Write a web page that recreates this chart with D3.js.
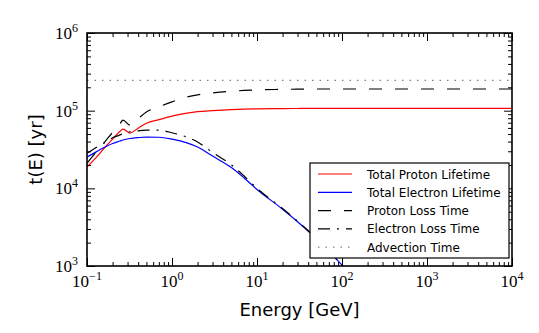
<!DOCTYPE html>
<html>
<head>
<meta charset="utf-8">
<script src="https://cdn.jsdelivr.net/npm/d3@7"></script>
<style>
  body { margin: 0; background: #fff; }
  text { fill: #000; }
</style>
</head>
<body>
<script>
let width = 539;
let height = 333;

// energies in GeV
let energy = [0.1, 0.13, 0.163, 0.2, 0.245, 0.265, 0.32, 0.4, 0.5, 0.7, 1, 1.5, 2, 3, 5, 7, 10, 20, 30, 50, 100, 200, 500, 1000, 3000, 10000];

// times in yr (null = not drawn)
let protonTotal = [1.88e4, 2.54e4, 3.38e4, 4.31e4, 5.43e4, 5.8e4, 5.15e4, 5.95e4, 6.9e4, 7.67e4, 8.5e4, 9.3e4, 9.7e4, 1.0e5, 1.03e5, 1.045e5, 1.055e5, 1.065e5, 1.067e5, 1.07e5, 1.07e5, 1.07e5, 1.07e5, 1.07e5, 1.07e5, 1.07e5];
let electronTotal = [2.53e4, 2.97e4, 3.4e4, 3.78e4, 4.07e4, 4.19e4, 4.38e4, 4.5e4, 4.57e4, 4.55e4, 4.3e4, 3.85e4, 3.4e4, 2.6e4, 1.85e4, 1.37e4, 9.67e3, 5.38e3, 3.72e3, 2.25e3, 1.03e3, 4.8e2, null, null, null, null];
let protonLoss = [2.1e4, 2.99e4, 4.0e4, 5.25e4, 6.8e4, 7.57e4, 6.52e4, 7.9e4, 9.6e4, 1.12e5, 1.3e5, 1.5e5, 1.6e5, 1.69e5, 1.78e5, 1.82e5, 1.85e5, 1.88e5, 1.89e5, 1.9e5, 1.9e5, 1.9e5, 1.9e5, 1.9e5, 1.9e5, 1.9e5];
let electronLoss = [2.82e4, 3.38e4, 3.9e4, 4.47e4, 4.88e4, 5.05e4, 5.35e4, 5.5e4, 5.6e4, 5.6e4, 5.2e4, 4.55e4, 3.95e4, 2.9e4, 2.0e4, 1.45e4, 1.0e4, 5.5e3, 3.78e3, 2.27e3, 1.03e3, 4.8e2, null, null, null, null];
let advection = [2.45e5, 2.45e5, 2.45e5, 2.45e5, 2.45e5, 2.45e5, 2.45e5, 2.45e5, 2.45e5, 2.45e5, 2.45e5, 2.45e5, 2.45e5, 2.45e5, 2.45e5, 2.45e5, 2.45e5, 2.45e5, 2.45e5, 2.45e5, 2.45e5, 2.45e5, 2.45e5, 2.45e5, 2.45e5, 2.45e5];

let seriesNames = ['Total Proton Lifetime', 'Total Electron Lifetime', 'Proton Loss Time', 'Electron Loss Time', 'Advection Time'];
let seriesData = [protonTotal, electronTotal, protonLoss, electronLoss, advection];
let seriesColor = ['#ff0000', '#0000ff', '#000000', '#000000', '#808080'];
let seriesDash = [null, null, '13,13', '12,7,2,7', '1.5,6'];

let xTickExp = [-1, 0, 1, 2, 3, 4];
let yTickExp = [3, 4, 5, 6];

let mLeft = 87, mRight = 512, mTop = 33, mBottom = 266;

let x = d3.scaleLog().domain([0.1, 1e4]).range([mLeft, mRight]);
let y = d3.scaleLog().domain([1e3, 1e6]).range([mBottom, mTop]);

let svg = d3.select('body').append('svg')
            .attr('width', width)
            .attr('height', height)
            .style('font-family', 'DejaVu Sans, sans-serif');

svg.append('defs').append('clipPath').attr('id', 'clip')
    .append('rect')
    .attr('x', mLeft).attr('y', mTop)
    .attr('width', mRight - mLeft).attr('height', mBottom - mTop);

let plot = svg.append('g').attr('clip-path', 'url(#clip)');

seriesData.forEach(function(vals, k) {
    let line = d3.line()
        .defined(function(d, i) { return vals[i] != null; })
        .x(function(d, i) { return x(energy[i]); })
        .y(function(d, i) { return y(vals[i]); })
        .curve(d3.curveMonotoneX);
    plot.append('path')
        .datum(vals)
        .attr('d', line)
        .attr('fill', 'none')
        .attr('stroke', seriesColor[k])
        .attr('stroke-width', 1.2)
        .attr('stroke-dasharray', seriesDash[k]);
});

// minor + major ticks
function logTicks(lo, hi) {
    let t = [];
    for (let e = lo; e < hi; e++) {
        for (let m = 1; m < 10; m++) t.push(m * Math.pow(10, e));
    }
    t.push(Math.pow(10, hi));
    return t;
}
function isMajor(v) {
    let l = Math.log10(v);
    return Math.abs(l - Math.round(l)) < 1e-9;
}

let xt = logTicks(-1, 4);
let yt = logTicks(3, 6);

let axes = [
    {gen: d3.axisBottom(x).tickValues(xt), tr: 'translate(0,' + mBottom + ')'},
    {gen: d3.axisTop(x).tickValues(xt), tr: 'translate(0,' + mTop + ')'},
    {gen: d3.axisLeft(y).tickValues(yt), tr: 'translate(' + mLeft + ',0)'},
    {gen: d3.axisRight(y).tickValues(yt), tr: 'translate(' + mRight + ',0)'}
];
axes.forEach(function(a) {
    let g = svg.append('g')
        .attr('transform', a.tr)
        .call(a.gen.tickSize(-4).tickFormat(function() { return ''; }));
    g.select('.domain').remove();
    g.selectAll('.tick line')
        .attr('stroke', '#000')
        .attr('stroke-width', 1)
        .each(function(d) {
            if (isMajor(d)) {
                let ln = d3.select(this);
                if (ln.attr('y2') != null && +ln.attr('y2') !== 0) ln.attr('y2', +ln.attr('y2') * 2);
                if (ln.attr('x2') != null && +ln.attr('x2') !== 0) ln.attr('x2', +ln.attr('x2') * 2);
            }
        });
});

// frame
svg.append('rect')
    .attr('x', mLeft).attr('y', mTop)
    .attr('width', mRight - mLeft).attr('height', mBottom - mTop)
    .attr('fill', 'none')
    .attr('stroke', '#000')
    .attr('stroke-width', 1.6);

// tick labels
let tickFont = 'Liberation Serif, DejaVu Serif, serif';
xTickExp.forEach(function(e) {
    let t = svg.append('text')
        .attr('x', x(Math.pow(10, e)))
        .attr('y', 287)
        .attr('text-anchor', 'middle')
        .style('font-family', tickFont)
        .style('font-size', '17px');
    t.append('tspan').text('10');
    t.append('tspan').attr('dy', -7).style('font-size', '12px').text(e < 0 ? '\u2212' + (-e) : e);
});
yTickExp.forEach(function(e) {
    let t = svg.append('text')
        .attr('x', 78)
        .attr('y', y(Math.pow(10, e)) + 6)
        .attr('text-anchor', 'end')
        .style('font-family', tickFont)
        .style('font-size', '17px');
    t.append('tspan').text('10');
    t.append('tspan').attr('dy', -7).style('font-size', '12px').text(e);
});

// axis labels
svg.append('text')
    .attr('x', (mLeft + mRight) / 2)
    .attr('y', 316)
    .attr('text-anchor', 'middle')
    .style('font-size', '18px')
    .text('Energy [GeV]');

svg.append('text')
    .attr('transform', 'translate(42,' + ((mTop + mBottom) / 2) + ') rotate(-90)')
    .attr('text-anchor', 'middle')
    .style('font-size', '18px')
    .text('t(E) [yr]');

// legend
let lg = svg.append('g');
lg.append('rect')
    .attr('x', 310).attr('y', 163)
    .attr('width', 199).attr('height', 95)
    .attr('fill', '#fff')
    .attr('stroke', '#000')
    .attr('stroke-width', 1.2);

seriesNames.forEach(function(name, k) {
    let yy = 174 + k * 18.3;
    lg.append('line')
        .attr('x1', 318).attr('x2', 352)
        .attr('y1', yy).attr('y2', yy)
        .attr('stroke', seriesColor[k])
        .attr('stroke-width', 1.2)
        .attr('stroke-dasharray', seriesDash[k]);
    lg.append('text')
        .attr('x', 367)
        .attr('y', yy + 4.5)
        .style('font-size', '12px')
        .text(name);
});
</script>
</body>
</html>
